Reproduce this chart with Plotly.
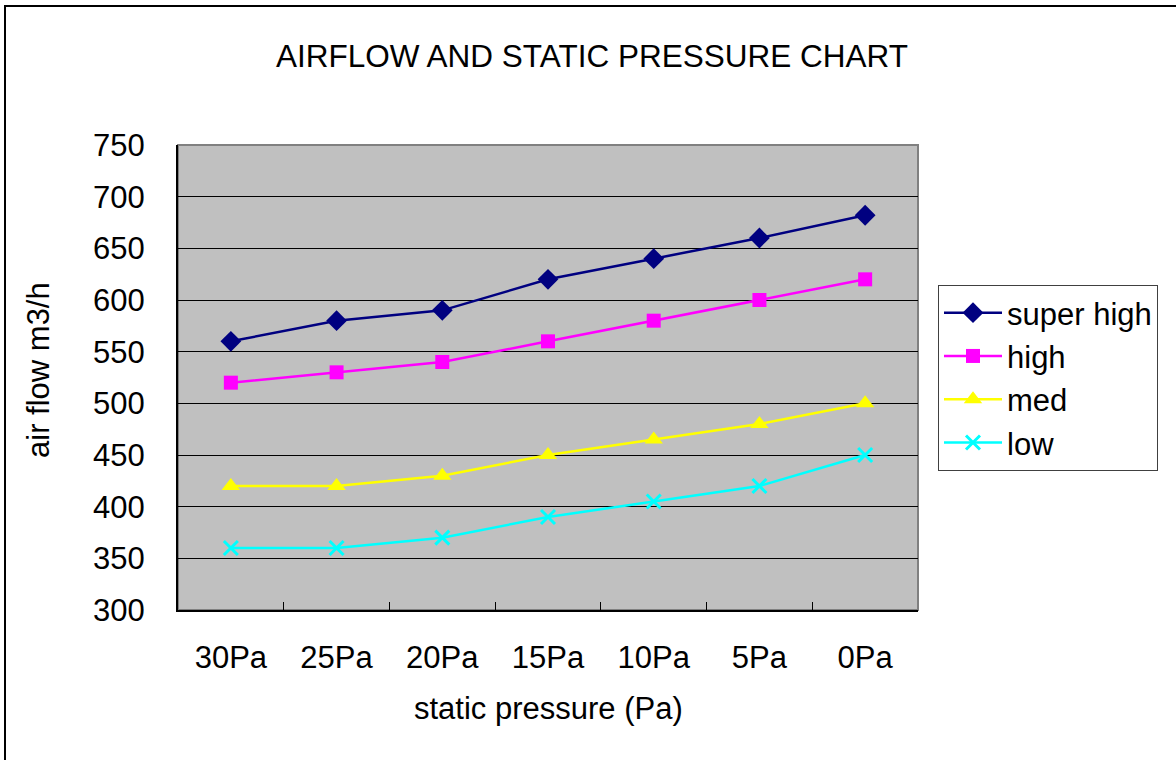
import plotly.graph_objects as go

categories = ["30Pa", "25Pa", "20Pa", "15Pa", "10Pa", "5Pa", "0Pa"]
super_high = [560, 580, 590, 620, 640, 660, 682]
high = [520, 530, 540, 560, 580, 600, 620]
med = [420, 420, 430, 450, 465, 480, 500]
low = [360, 360, 370, 390, 405, 420, 450]
y_ticks = [300, 350, 400, 450, 500, 550, 600, 650, 700, 750]

FONT = "Liberation Sans, Arial, sans-serif"

fig = go.Figure()
fig.add_trace(go.Scatter(x=categories, y=super_high, name="super high", mode="lines+markers",
                         line=dict(color="#000080", width=2.5),
                         marker=dict(symbol="diamond", size=16, color="#000080")))
fig.add_trace(go.Scatter(x=categories, y=high, name="high", mode="lines+markers",
                         line=dict(color="#FF00FF", width=2.5),
                         marker=dict(symbol="square", size=14, color="#FF00FF")))
fig.add_trace(go.Scatter(x=categories, y=med, name="med", mode="lines+markers",
                         line=dict(color="#FFFF00", width=2.5),
                         marker=dict(symbol="triangle-up", size=16, color="#FFFF00")))
fig.add_trace(go.Scatter(x=categories, y=low, name="low", mode="lines+markers",
                         line=dict(color="#00FFFF", width=2.5),
                         marker=dict(symbol="x-thin", size=14, color="#00FFFF",
                                     line=dict(color="#00FFFF", width=3))))

W, H = 1176, 760
L, R, T, B = 178, 258, 145, 150
pw, ph = W - L - R, H - T - B

fig.update_layout(
    width=W, height=H,
    margin=dict(l=L, r=R, t=T, b=B, pad=0),
    paper_bgcolor="white",
    plot_bgcolor="#C0C0C0",
    font=dict(family=FONT, size=31, color="black"),
    title=dict(text="AIRFLOW AND STATIC PRESSURE CHART", x=592 / W, xanchor="center",
               y=1 - 56 / H, yanchor="middle", font=dict(size=31.5, family=FONT)),
    showlegend=True,
    legend=dict(x=(938 - L) / pw, xanchor="left", y=(T + ph - 285) / ph, yanchor="top",
                bordercolor="#404040", borderwidth=1, bgcolor="white",
                font=dict(size=31, family=FONT), tracegroupgap=0, itemwidth=58,
                entrywidth=174, entrywidthmode="pixels"),
    xaxis=dict(type="category", tickson="boundaries", ticks="inside", ticklen=8,
               tickcolor="black", tickwidth=1, showgrid=False,
               showline=True, linecolor="black", linewidth=2,
               ticklabelstandoff=19,
               range=[-0.5, 6.5]),
    yaxis=dict(range=[300, 750], tickvals=y_ticks, ticks="inside", ticklen=9,
               tickcolor="black", showgrid=True, gridcolor="black", gridwidth=1,
               showline=True, linecolor="black", linewidth=2, zeroline=False,
               ticklabelstandoff=25),
    annotations=[
        dict(text="air flow m3/h", xref="paper", yref="paper",
             x=(38 - L) / pw, y=(T + ph - 370) / ph, xanchor="center", yanchor="middle",
             textangle=-90, showarrow=False, font=dict(size=31, family=FONT)),
        dict(text="static pressure (Pa)", xref="paper", yref="paper",
             x=(548 - L) / pw, y=(T + ph - 708) / ph, xanchor="center", yanchor="middle",
             showarrow=False, font=dict(size=31, family=FONT)),
    ],
    shapes=[
        dict(type="rect", xref="paper", yref="paper", x0=0, x1=1, y0=0, y1=1,
             line=dict(color="#808080", width=2), layer="below"),
        dict(type="rect", xref="paper", yref="paper",
             x0=(5 - L) / pw, x1=(W + 20 - L) / pw,
             y0=(T + ph - (H + 20)) / ph, y1=(T + ph - 6) / ph,
             line=dict(color="black", width=2)),
    ],
)

fig.write_html("out.html", config={"displayModeBar": False},
               post_script="document.body.style.margin='0';document.body.style.overflow='hidden';")
